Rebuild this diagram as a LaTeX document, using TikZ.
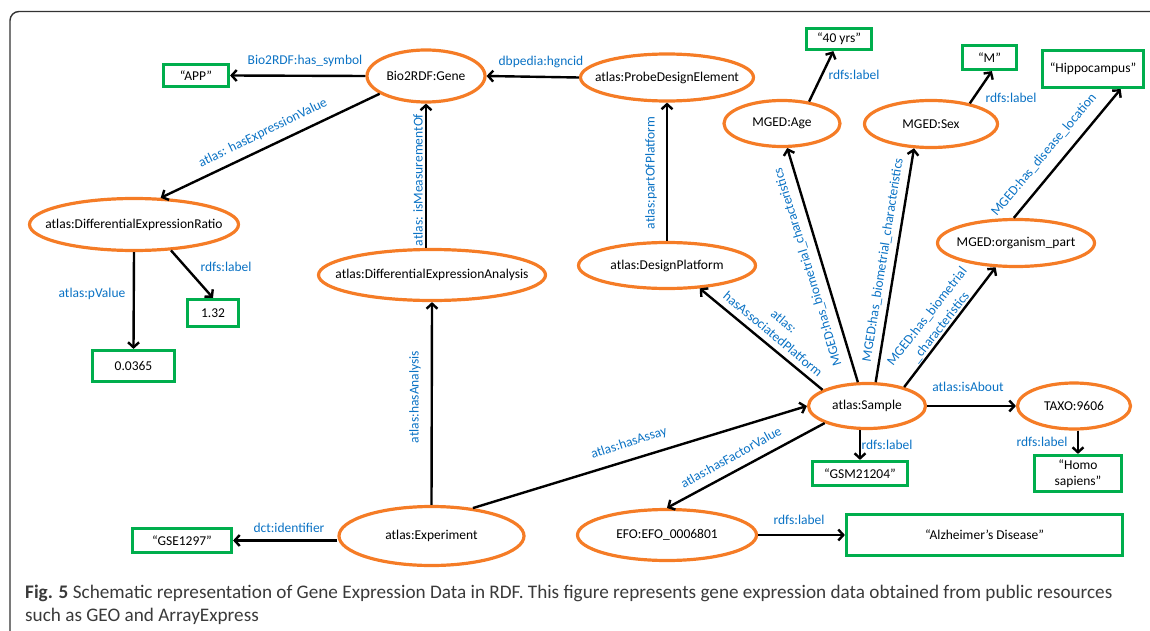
\documentclass[tikz,border=0pt]{standalone}
\usepackage{fontspec}
\setmainfont{Carlito}
\usetikzlibrary{shapes.geometric,arrows.meta}
\definecolor{rdforange}{HTML}{F57C26}
\definecolor{litgreen}{HTML}{00AE4D}
\definecolor{edgeblue}{HTML}{0A72C4}
\definecolor{capgrey}{HTML}{3A3A3A}
\definecolor{framegrey}{HTML}{333333}

\begin{document}
\begin{tikzpicture}[x=1pt,y=-1pt,
  txt/.style={font=\fontsize{13.5}{16}\selectfont, text=black, inner sep=0pt},
  res/.style={ellipse, draw=rdforange, line width=3.2pt, inner sep=0pt},
  lit/.style={rectangle, draw=litgreen, line width=3.2pt, inner sep=0pt,
    font=\fontsize{13.5}{16}\selectfont, align=center},
  rel/.style={font=\fontsize{13.5}{17}\selectfont, text=edgeblue, inner sep=0pt, align=center},
  arr/.style={draw=black, line width=2.4pt, -{Straight Barb[length=5pt,width=11pt]}},
  capt/.style={font=\fontsize{19.2}{22}\selectfont, text=capgrey, inner sep=0pt, anchor=base west},
]
\useasboundingbox (0,0) rectangle (1150,631);

% outer frame
\draw[framegrey, line width=1.4pt, rounded corners=9pt] (10,640) -- (10,11.5) -- (1160,11.5);

% resources (ellipses)
\node[res, minimum width=118pt, minimum height=52pt, label={[txt]center:{Bio2RDF:Gene}}] (gene) at (426,76) {};
\node[res, minimum width=173pt, minimum height=47pt, label={[txt]center:{atlas:ProbeDesignElement}}] (pde) at (667,77.5) {};
\node[res, minimum width=209pt, minimum height=52pt, label={[txt]center:{atlas:DifferentialExpressionRatio}}] (der) at (134,224.5) {};
\node[res, minimum width=227pt, minimum height=51pt, label={[txt]center:{atlas:DifferentialExpressionAnalysis}}] (dea) at (432,275) {};
\node[res, minimum width=116pt, minimum height=46pt, label={[txt]center:{MGED:Age}}] (age) at (782,123.5) {};
\node[res, minimum width=133pt, minimum height=47pt, label={[txt]center:{MGED:Sex}}] (sex) at (931,124) {};
\node[res, minimum width=157pt, minimum height=47pt, label={[txt]center:{MGED:organism\_part}}] (org) at (1016,243) {};
\node[res, minimum width=177pt, minimum height=46pt, label={[txt]center:{atlas:DesignPlatform}}] (dp) at (667,265.5) {};
\node[res, minimum width=117pt, minimum height=45pt, label={[txt]center:{atlas:Sample}}] (sample) at (867,406) {};
\node[res, minimum width=113pt, minimum height=46pt, label={[txt]center:{TAXO:9606}}] (taxo) at (1074,406) {};
\node[res, minimum width=179pt, minimum height=51pt, label={[txt]center:{EFO:EFO\_0006801}}] (efo) at (667,535) {};
\node[res, minimum width=185pt, minimum height=59pt, label={[txt]center:{atlas:Experiment}}] (exp) at (431.5,536) {};

% literals (boxes)
\node[lit, minimum width=65pt, minimum height=22pt] (app) at (196,75.5) {“APP”};
\node[lit, minimum width=51pt, minimum height=27pt] (v132) at (213,313) {1.32};
\node[lit, minimum width=82pt, minimum height=31pt] (pval) at (133.5,366) {0.0365};
\node[lit, minimum width=99pt, minimum height=24pt] (gse) at (182,540.5) {“GSE1297”};
\node[lit, minimum width=65pt, minimum height=21pt] (yrs) at (839,39) {“40 yrs”};
\node[lit, minimum width=54pt, minimum height=24pt] (mbox) at (989.5,57.5) {“M”};
\node[lit, minimum width=101pt, minimum height=37pt] (hippo) at (1093,69) {“Hippocampus”};
\node[lit, minimum width=95pt, minimum height=24pt] (gsm) at (860,473.5) {“GSM21204”};
\node[lit, minimum width=87pt, minimum height=36pt] (homo) at (1078,473.5) {“Homo\\sapiens”};
\node[lit, minimum width=276pt, minimum height=41pt] (alz) at (984.5,535) {“Alzheimer’s Disease”};

% properties (connectors)
\draw[arr] (gene.west) -- (app.east);
\draw[arr] (pde.west) -- (gene.east);
\draw[arr] (gene.201) -- (der.45);
\draw[arr] (gene.south |- dea.north) -- (gene.south);
\draw[arr] (exp.north) -- (dea.south);
\draw[arr] (exp.west |- gse.east) -- (gse.east);
\draw[arr] (exp.34) -- (sample.west);
\draw[arr] (sample.160) -- (dp.-35);
\draw[arr] (sample.111) -- (age.-78);
\draw[arr] (sample.70) -- (sex.235);
\draw[arr] (sample.27) -- (org.230);
\draw[arr] (org.95) -- (hippo.-36);
\draw[arr] (age.39) -- (yrs.245);
\draw[arr] (sex.28) -- (mbox.280);
\draw[arr] (dp.north) -- (pde.south);
\draw[arr] (der.-35) -- (v132.north);
\draw[arr] (der.south) -- (pval.north);
\draw[arr] (gsm.north |- sample.south) -- (gsm.north);
\draw[arr] (sample.east) -- (taxo.west);
\draw[arr] (homo.north |- taxo.south) -- (homo.north);
\draw[arr] (sample.202) -- (efo.north);
\draw[arr] (efo.east |- alz.west) -- (alz.west);

% property names
\node[rel] (l-symbol) at (305,61) {Bio2RDF:has\_symbol};
\node[rel] (l-hgnc) at (541,62) {dbpedia:hgncid};
\node[rel, rotate=26] (l-exprval) at (263,133) {atlas: hasExpressionValue};
\node[rel, rotate=90] (l-measure) at (418,180) {atlas: isMeasurementOf};
\node[rel, rotate=90] (l-analysis) at (415,397) {atlas:hasAnalysis};
\node[rel] (l-ident) at (289,528) {dct:identifier};
\node[rel, rotate=18] (l-assay) at (629,443) {atlas:hasAssay};
\node[rel, rotate=-40] (l-platform) at (778.5,327.5) {atlas:\\hasAssociatedPlatform};
\node[rel, rotate=107] (l-age) at (808,267) {MGED:has\_biometrial\_characteristics};
\node[rel, rotate=81] (l-sex) at (883,260) {MGED:has\_biometrial\_characteristics};
\node[rel, rotate=52] (l-org) at (934,322) {MGED:has\_biometrial\\\_characteristics};
\node[rel, rotate=50] (l-disease) at (1044,155) {MGED:has\_disease\_location};
\node[rel] (l-agelbl) at (854,75) {rdfs:label};
\node[rel] (l-sexlbl) at (1011,98) {rdfs:label};
\node[rel, rotate=90] (l-part) at (651,173) {atlas:partOfPlatform};
\node[rel] (l-v132) at (226,267) {rdfs:label};
\node[rel] (l-pval) at (92,294) {atlas:pValue};
\node[rel] (l-gsm) at (887,445) {rdfs:label};
\node[rel] (l-about) at (968,387) {atlas:isAbout};
\node[rel] (l-homo) at (1042,442) {rdfs:label};
\node[rel, rotate=29] (l-factor) at (731,457) {atlas:hasFactorValue};
\node[rel] (l-alz) at (799,520) {rdfs:label};

% caption
\node[capt] (cap1) at (25,598) {\textbf{Fig. 5} Schematic representation of Gene Expression Data in RDF. This figure represents gene expression data obtained from public resources};
\node[capt] (cap2) at (25,621) {such as GEO and ArrayExpress};
\end{tikzpicture}
\end{document}
